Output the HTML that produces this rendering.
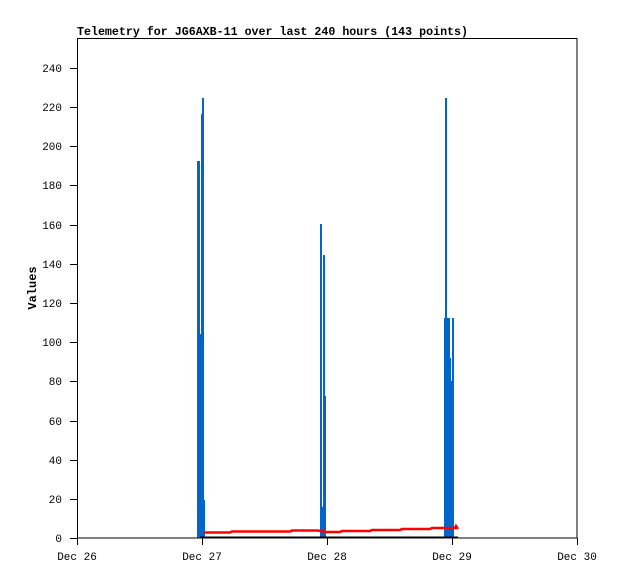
<!DOCTYPE html>
<html><head><style>body{margin:0;background:#fff}svg{display:block}</style></head><body>
<svg width="618" height="579" xmlns="http://www.w3.org/2000/svg" font-family="Liberation Mono, DejaVu Sans Mono, monospace" font-size="11">
<rect width="618" height="579" fill="#fff"/>
<text x="77" y="35" font-weight="bold" font-size="12" textLength="391" lengthAdjust="spacingAndGlyphs">Telemetry for JG6AXB-11 over last 240 hours (143 points)</text>
<text transform="translate(36,288) rotate(-90)" text-anchor="middle" font-weight="bold" font-size="12">Values</text>
<g fill="#0066cc" shape-rendering="crispEdges">
<rect x="197" y="161" width="3" height="377"/>
<rect x="200" y="334" width="1" height="204"/>
<rect x="201" y="114" width="2" height="424"/>
<rect x="202" y="98" width="2" height="440"/>
<rect x="203" y="500" width="2" height="38"/>
<rect x="320" y="224" width="2" height="314"/>
<rect x="322" y="507" width="1" height="31"/>
<rect x="323" y="255" width="2" height="283"/>
<rect x="324" y="396" width="2" height="142"/>
<rect x="444" y="318" width="2" height="220"/>
<rect x="445" y="98" width="2" height="440"/>
<rect x="446" y="318" width="2" height="220"/>
<rect x="447" y="436" width="2" height="102"/>
<rect x="448" y="318" width="2" height="220"/>
<rect x="449" y="358" width="2" height="180"/>
<rect x="450" y="381" width="2" height="157"/>
<rect x="452" y="318" width="2" height="220"/>
</g>
<polyline fill="none" stroke="#ff0000" stroke-width="2.5" points="204,532.5 230,532.5 232,531.5 290,531.5 292,530.5 318,530.5 326,532 340,532 342,531 370,531 372,530 400,530 402,529 430,529 432,528 455,528 456,526 458,529"/>
<line x1="200" y1="537.5" x2="458" y2="537.5" stroke="#000" stroke-width="2"/>
<rect x="77.5" y="38.5" width="499.5" height="499.5" fill="none" stroke="#000"/>
<g stroke="#000">
<line x1="70" y1="538.5" x2="77" y2="538.5"/><line x1="70" y1="499.5" x2="77" y2="499.5"/><line x1="70" y1="460.5" x2="77" y2="460.5"/><line x1="70" y1="421.5" x2="77" y2="421.5"/><line x1="70" y1="381.5" x2="77" y2="381.5"/><line x1="70" y1="342.5" x2="77" y2="342.5"/><line x1="70" y1="303.5" x2="77" y2="303.5"/><line x1="70" y1="264.5" x2="77" y2="264.5"/><line x1="70" y1="225.5" x2="77" y2="225.5"/><line x1="70" y1="185.5" x2="77" y2="185.5"/><line x1="70" y1="146.5" x2="77" y2="146.5"/><line x1="70" y1="107.5" x2="77" y2="107.5"/><line x1="70" y1="68.5" x2="77" y2="68.5"/>
<line x1="77.5" y1="538" x2="77.5" y2="545"/><line x1="202.5" y1="538" x2="202.5" y2="545"/><line x1="327.5" y1="538" x2="327.5" y2="545"/><line x1="452.5" y1="538" x2="452.5" y2="545"/><line x1="577.5" y1="538" x2="577.5" y2="545"/>
</g>
<g text-anchor="end">
<text x="62" y="542">0</text><text x="62" y="503">20</text><text x="62" y="464">40</text><text x="62" y="425">60</text><text x="62" y="385">80</text><text x="62" y="346">100</text><text x="62" y="307">120</text><text x="62" y="268">140</text><text x="62" y="229">160</text><text x="62" y="189">180</text><text x="62" y="150">200</text><text x="62" y="111">220</text><text x="62" y="72">240</text>
</g>
<g text-anchor="middle">
<text x="77" y="560">Dec 26</text><text x="202" y="560">Dec 27</text><text x="327" y="560">Dec 28</text><text x="452" y="560">Dec 29</text><text x="577" y="560">Dec 30</text>
</g>
</svg>
</body></html>
